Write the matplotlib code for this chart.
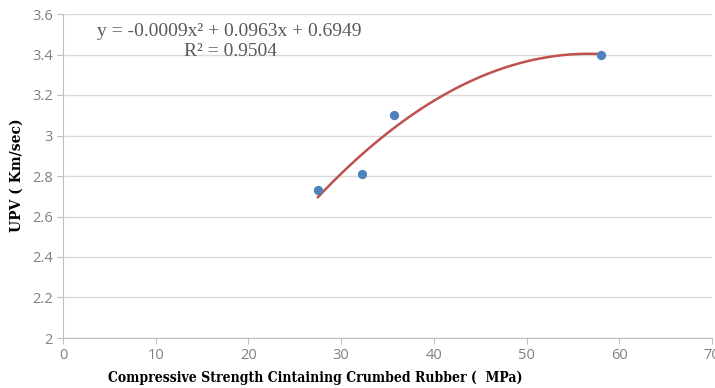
import numpy as np
import matplotlib
matplotlib.use("Agg")
import matplotlib.pyplot as plt

strength = [27.5, 32.2, 35.7, 58.0]
upv = [2.73, 2.81, 3.10, 3.40]
x_ticks = [0, 10, 20, 30, 40, 50, 60, 70]
y_ticks = [2, 2.2, 2.4, 2.6, 2.8, 3, 3.2, 3.4, 3.6]
y_tick_labels = ["2", "2.2", "2.4", "2.6", "2.8", "3", "3.2", "3.4", "3.6"]
eq_text = "y = -0.0009x² + 0.0963x + 0.6949"
r2_text = "R² = 0.9504"

fig = plt.figure(figsize=(7.15, 3.88), dpi=100)
W, H = 715, 388
ax = fig.add_axes([63 / W, 1 - 338 / H, (712 - 63) / W, (338 - 14) / H])

ax.set_xlim(0, 70)
ax.set_ylim(2, 3.6)
ax.set_xticks(x_ticks)
ax.set_yticks(y_ticks)
ax.set_yticklabels(y_tick_labels)
ax.grid(axis="y", color="#d9d9d9", linewidth=1)
ax.set_axisbelow(True)
for s in ["top", "right"]:
    ax.spines[s].set_visible(False)
for s in ["left", "bottom"]:
    ax.spines[s].set_color("#bfbfbf")
ax.tick_params(axis="both", colors="#bfbfbf", labelcolor="#808080", labelsize=10.5, length=4)
for lab in ax.get_xticklabels() + ax.get_yticklabels():
    lab.set_fontfamily("Open Sans")

coef = np.polyfit(strength, upv, 2)
xs = np.linspace(min(strength), max(strength), 200)
ax.plot(xs, np.polyval(coef, xs), color="#c0504d", linewidth=1.8, zorder=2)
ax.scatter(strength, upv, s=32, color="#4f81bd", zorder=3)

fig.text(97 / W, 1 - 31 / H, eq_text, fontsize=14, family="Liberation Serif",
         color="#595959", va="center", ha="left")
fig.text(230 / W, 1 - 51 / H, r2_text, fontsize=14, family="Liberation Serif",
         color="#595959", va="center", ha="center")

fig.text(315 / W, 1 - 378 / H, "Compressive Strength Cintaining Crumbed Rubber (  MPa)",
         fontsize=10, family="DejaVu Serif", fontweight="bold", fontstretch="condensed",
         ha="center", va="center")
fig.text(17 / W, 1 - 175 / H, "UPV ( Km/sec)", fontsize=10, family="DejaVu Serif",
         fontweight="bold", rotation=90, ha="center", va="center")

fig.savefig("out.png", dpi=100)
